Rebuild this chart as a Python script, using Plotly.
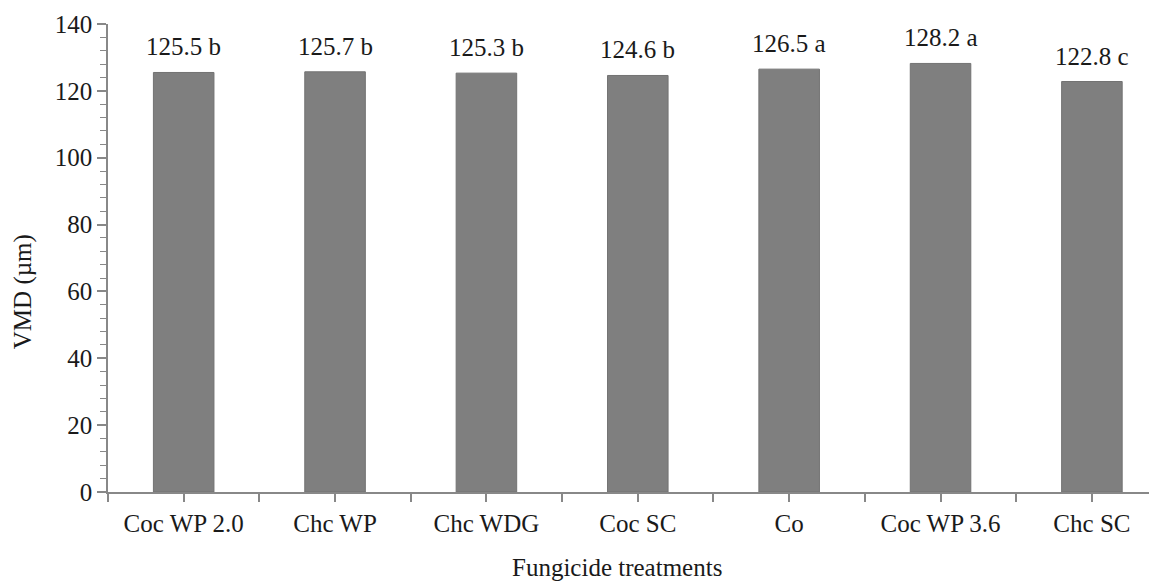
import plotly.graph_objects as go

categories = ["Coc WP 2.0", "Chc WP", "Chc WDG", "Coc SC", "Co", "Coc WP 3.6", "Chc SC"]
vmd_values = [125.5, 125.7, 125.3, 124.6, 126.5, 128.2, 122.8]
letters = ["b", "b", "b", "b", "a", "a", "c"]
y_ticks = [0, 20, 40, 60, 80, 100, 120, 140]

font_family = "Liberation Serif"
text_color = "#1a1a1a"
fsize = 25
xpos = list(range(len(categories)))

fig = go.Figure()
fig.add_trace(go.Bar(
    x=xpos, y=vmd_values, width=0.4,
    marker=dict(color="#7f7f7f", line=dict(color="#737373", width=1)),
    hoverinfo="skip",
))

for xi, v, l in zip(xpos, vmd_values, letters):
    fig.add_annotation(x=xi, y=v, text=f"{v:.1f} {l}", showarrow=False,
                       yanchor="bottom", yshift=10,
                       font=dict(family=font_family, size=fsize, color=text_color))

fig.add_annotation(xref="paper", yref="paper", x=-0.081, y=0.427,
                   text="VMD (µm)", textangle=-90, showarrow=False,
                   xanchor="center", yanchor="middle",
                   font=dict(family=font_family, size=fsize, color=text_color))
fig.add_annotation(xref="paper", yref="paper", x=0.485, y=-0.162,
                   text="Fungicide treatments", showarrow=False,
                   xanchor="center", yanchor="middle",
                   font=dict(family=font_family, size=fsize, color=text_color))

fig.update_layout(
    width=1149, height=574,
    margin=dict(l=100, r=0, t=16, b=90),
    plot_bgcolor="white", paper_bgcolor="white",
    showlegend=False,
    font=dict(family=font_family, size=fsize, color=text_color),
    xaxis=dict(
        range=[-0.5, 6.43], tickvals=xpos, ticktext=categories,
        showgrid=False, zeroline=False,
        showline=True, linecolor="#888888", linewidth=1.5,
        ticks="outside", ticklen=8, tickcolor="#888888", tickwidth=1.5,
        minor=dict(tickvals=[i - 0.5 for i in range(len(categories) + 1)],
                   ticks="outside", ticklen=8, tickcolor="#888888", tickwidth=1.5,
                   showgrid=False),
        tickfont=dict(family=font_family, size=fsize, color=text_color),
    ),
    yaxis=dict(
        range=[0, 140], tickvals=y_ticks,
        showgrid=False, zeroline=False,
        showline=True, linecolor="#888888", linewidth=1.5,
        ticks="outside", ticklen=9, tickcolor="#888888", tickwidth=1.5,
        minor=dict(dtick=4, tick0=0, ticks="outside", ticklen=6,
                   tickcolor="#888888", tickwidth=1.2, showgrid=False),
        tickfont=dict(family=font_family, size=fsize, color=text_color),
    ),
)

fig.write_html("out.html")
